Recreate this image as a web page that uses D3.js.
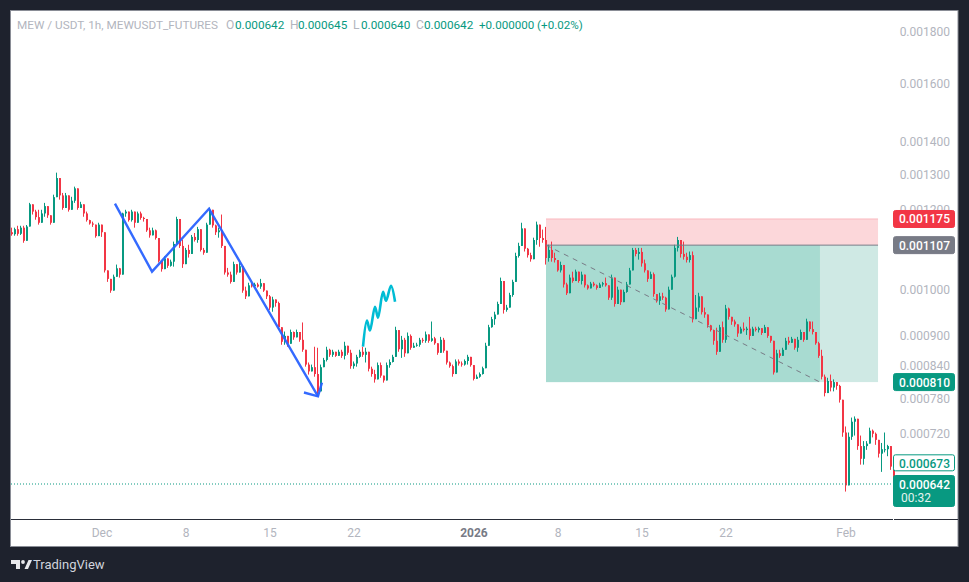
<!DOCTYPE html>
<html><head><meta charset="utf-8">
<script src="https://cdn.jsdelivr.net/npm/d3@7"></script>
<style>html,body{margin:0;padding:0;background:#1e222d}svg{display:block}text{font-family:"Roboto",sans-serif}</style>
</head><body><svg id="c" width="969" height="582"></svg>
<script>
// candles: 6-hour aggregates, prices in millionths of USDT
const highs=[1152,1152,1157,1157,1157,1159,1219,1214,1200,1200,1200,1219,1200,1181,1242,
1306,1277,1247,1247,1233,1236,1265,1222,1222,1206,1195,1173,1168,1152,1165,
1152,1108,1035,1018,1035,1059,1051,1192,1200,1187,1200,1187,1195,1195,1181,
1173,1152,1152,1147,1121,1066,1079,1071,1071,1116,1181,1165,1121,1100,1108,
1133,1138,1154,1121,1100,1165,1206,1187,1160,1152,1187,1100,1051,1042,1066,
1051,1064,1054,1007,1016,1016,1016,1016,1025,1012,995,988,984,977,973,
917,909,898,913,909,913,907,928,858,847,843,878,876,843,856,
878,874,872,866,872,872,888,878,872,849,862,872,878,876,866,
839,833,847,847,820,847,853,862,919,888,900,896,907,903,886,
886,896,896,909,898,930,898,882,898,896,866,849,843,853,853,
849,853,862,856,833,824,828,839,886,923,940,951,973,1028,988,
966,993,1023,1088,1113,1165,1126,1100,1088,1126,1168,1154,1147,1154,1108,
1116,1088,1064,1066,1042,1016,1035,1042,1047,1035,1042,1018,1012,1018,1018,
1012,1016,1018,1028,1005,1035,1000,1007,982,1000,1018,1051,1100,1100,1100,
1100,1071,1042,1042,1040,988,993,993,984,1007,1035,1108,1128,1116,1116,
1088,1091,1091,988,993,982,960,940,923,913,917,923,930,966,960,
938,934,923,919,928,919,940,919,919,919,913,923,913,898,886,
872,872,876,896,898,898,892,898,913,903,936,923,930,892,888,
872,824,818,824,815,809,805,766,732,722,747,749,717,717,708,
708,730,727,722,708,705,722,702,699,668];
const lows=[1131,1131,1131,1133,1113,1121,1192,1187,1173,1160,1178,1181,1178,1160,1208,
1247,1228,1200,1214,1195,1200,1219,1200,1206,1181,1168,1160,1154,1126,1133,
1128,1040,1018,993,1005,1035,1028,1071,1181,1168,1168,1152,1173,1173,1168,
1141,1126,1133,1121,1064,1042,1054,1051,1054,1054,1121,1100,1051,1076,1076,
1100,1116,1113,1091,1083,1096,1165,1152,1133,1126,1100,1035,1030,1014,1035,
1035,1042,993,979,1000,1005,1005,1005,1002,995,979,955,951,962,913,
882,882,878,888,892,898,888,868,839,824,833,820,787,796,843,
849,858,858,858,862,856,853,862,835,835,839,856,858,847,830,
820,809,828,818,809,820,837,847,872,868,856,858,878,872,876,
878,878,886,886,886,888,882,862,868,866,843,837,820,839,841,
839,841,843,839,813,818,818,824,843,896,917,923,951,982,947,
951,960,984,1040,1076,1108,1091,1076,1066,1088,1108,1103,1113,1059,1066,
1066,1064,1042,1040,1005,988,1012,1016,1028,1016,1012,1005,1000,1007,1007,
1000,1005,1007,1007,977,977,962,982,966,973,993,1028,1051,1079,1071,
1054,1040,1018,1028,984,971,966,977,951,962,1005,1028,1091,1076,1071,
1064,1064,928,951,951,945,938,917,909,882,862,909,886,886,934,
923,919,898,907,909,902,892,909,909,907,902,907,896,886,824,
833,856,866,878,882,886,872,868,896,888,903,909,903,882,856,
815,784,796,793,793,796,773,715,631,663,710,717,694,671,671,
694,705,714,702,682,660,690,684,663,648];
const closes=[1135,1148,1136,1152,1118,1155,1215,1195,1180,1165,1190,1210,1185,1165,1235,
1290,1240,1205,1240,1200,1225,1260,1205,1215,1190,1172,1163,1160,1130,1160,
1140,1045,1025,998,1030,1050,1035,1190,1195,1172,1195,1165,1190,1178,1175,
1145,1132,1145,1125,1068,1048,1074,1056,1066,1110,1175,1105,1060,1095,1085,
1128,1120,1148,1095,1088,1160,1200,1158,1140,1145,1105,1040,1035,1018,1060,
1040,1055,998,985,1010,1008,1012,1007,1015,998,985,960,978,970,918,
888,900,884,908,897,908,892,872,843,830,838,825,793,838,852,
872,862,868,860,868,860,880,866,840,845,858,868,862,868,835,
825,815,842,822,813,842,848,858,912,873,892,865,900,876,880,
882,892,890,903,890,895,885,866,892,870,847,840,825,849,845,
843,850,858,842,816,820,825,836,880,918,935,945,968,1020,955,
960,988,1018,1080,1105,1150,1098,1082,1072,1120,1160,1125,1120,1075,1095,
1075,1070,1045,1058,1012,992,1028,1020,1042,1020,1035,1010,1003,1014,1010,
1004,1012,1015,1010,982,1028,968,1000,972,995,1012,1045,1095,1085,1090,
1062,1045,1025,1036,990,975,985,982,956,1000,1030,1100,1120,1085,1078,
1070,1082,935,960,985,950,945,922,912,890,868,918,892,958,940,
930,924,905,915,912,915,900,915,912,916,906,918,900,890,828,
865,860,872,890,886,894,876,892,908,892,930,914,908,885,860,
820,790,812,800,810,803,778,722,640,715,740,745,700,680,700,
704,725,720,710,688,695,695,700,668,650];
const firstOpen=1140;
const firstCandle=Date.UTC(2025,10,23,12), candleStep=6*3600e3;

const priceTicks=[1800,1600,1400,1300,1200,1000,900,840,780,720];
const timeTicks=[[2025,11,1,"Dec"],[2025,11,8,"8"],[2025,11,15,"15"],[2025,11,22,"22"],[2026,0,1,"2026"],[2026,0,8,"8"],[2026,0,15,"15"],[2026,0,22,"22"],[2026,1,1,"Feb"]];

// drawings: days after 1 Dec, price in millionths
const zigDays=[1.08,4.17,8.92,18.0], zigPrices=[1217,1042,1203,784];
const headDays=[16.83,18.0,18.33], headPrices=[791,784,809];
const waveDays=[21.75,22.08,22.33,22.75,23,23.42,23.67,24.08,24.42];
const wavePrices=[878,932,911,962,938,995,975,1009,973];
const posStartDay=37, posNowDay=59.83, posEndDay=64.67;
const stopPrice=1175, entryPrice=1107, targetPrice=810, lastPrice=642, otherPrice=673;

const UP="#089981",DOWN="#f23645",AXIS="#b2b5be";
const svg=d3.select("#c");
const x=d3.scaleUtc().domain([Date.UTC(2025,11,1),Date.UTC(2026,1,1)]).range([102,846]);
const y=d3.scaleLog().domain([1800e-6,642e-6]).range([32,484]);
const px=d=>x(Date.UTC(2025,11,1)+d*864e5), py=p=>y(p*1e-6);

svg.append("rect").attr("width",969).attr("height",582).attr("fill","#1e222d");
svg.append("rect").attr("x",10.5).attr("y",10.5).attr("width",947.5).attr("height",536).attr("fill","#fff").attr("stroke","#8a8d96");

// position tool
const g=svg.append("g");
g.append("rect").attr("x",px(posStartDay)).attr("y",py(stopPrice)).attr("width",px(posEndDay)-px(posStartDay)).attr("height",py(entryPrice)-py(stopPrice)).attr("fill","#fcd7da");
g.append("line").attr("x1",px(posStartDay)).attr("x2",px(posEndDay)).attr("y1",py(stopPrice)).attr("y2",py(stopPrice)).attr("stroke","#fbb9bf");
g.append("rect").attr("x",px(posStartDay)).attr("y",py(entryPrice)).attr("width",px(posEndDay)-px(posStartDay)).attr("height",py(targetPrice)-py(entryPrice)).attr("fill","#cfe9e4");
g.append("rect").attr("x",px(posStartDay)).attr("y",py(entryPrice)).attr("width",px(posNowDay)-px(posStartDay)).attr("height",py(targetPrice)-py(entryPrice)).attr("fill","#a8dbd1");

// candles
const candles=closes.map((c,i)=>{const o=i?closes[i-1]:firstOpen;return{t:firstCandle+i*candleStep,o,c,h:Math.max(highs[i],o,c),l:Math.min(lows[i],o,c)}});
const cg=svg.append("g");
cg.selectAll("line").data(candles).join("line").attr("x1",d=>x(d.t)-.5).attr("x2",d=>x(d.t)-.5).attr("y1",d=>py(d.h)).attr("y2",d=>py(d.l)).attr("stroke",d=>d.c>=d.o?UP:DOWN).attr("stroke-width",1);
cg.selectAll("rect").data(candles).join("rect").attr("x",d=>x(d.t)-1).attr("width",2).attr("y",d=>py(Math.max(d.o,d.c))).attr("height",d=>Math.max(1,py(Math.min(d.o,d.c))-py(Math.max(d.o,d.c)))).attr("fill",d=>d.c>=d.o?UP:DOWN);

// position lines on top
svg.append("line").attr("x1",px(posStartDay)).attr("x2",px(posEndDay)).attr("y1",py(entryPrice)).attr("y2",py(entryPrice)).attr("stroke","#787b86").attr("stroke-width",1);
svg.append("line").attr("x1",px(posStartDay)).attr("x2",px(posNowDay)).attr("y1",py(entryPrice)).attr("y2",py(targetPrice)).attr("stroke","#787b86").attr("stroke-width",1).attr("stroke-dasharray","5 5");

// blue zigzag and arrow head
const ln=d3.line().x(d=>px(d[0])).y(d=>py(d[1]));
svg.append("path").attr("d",ln(d3.zip(zigDays,zigPrices))).attr("fill","none").attr("stroke","#2962ff").attr("stroke-opacity",.95).attr("stroke-width",2.4);
svg.append("path").attr("d",ln(d3.zip(headDays,headPrices))).attr("fill","none").attr("stroke","#2962ff").attr("stroke-opacity",.95).attr("stroke-width",2.4);
// cyan brush
svg.append("path").attr("d",d3.line().x(d=>px(d[0])).y(d=>py(d[1])).curve(d3.curveCatmullRom)(d3.zip(waveDays,wavePrices))).attr("fill","none").attr("stroke","#00bcd4").attr("stroke-width",2.6);

// last-price dotted line
svg.append("line").attr("x1",11).attr("x2",893).attr("y1",py(lastPrice)).attr("y2",py(lastPrice)).attr("stroke",UP).attr("stroke-dasharray","1 2");

// axes
const fmt=p=>(p*1e-6).toFixed(6);
svg.selectAll(".pt").data(priceTicks).join("text").attr("class","pt").attr("x",950).attr("text-anchor","end").attr("y",d=>py(d)+4).attr("font-size",12).attr("fill",AXIS).text(fmt);
svg.append("line").attr("x1",11).attr("x2",958).attr("y1",519.5).attr("y2",519.5).attr("stroke","#2a2e39");
svg.append("line").attr("x1",893.5).attr("x2",893.5).attr("y1",519).attr("y2",521).attr("stroke","#fff");
svg.selectAll(".tt").data(timeTicks).join("text").attr("class","tt").attr("x",d=>x(Date.UTC(d[0],d[1],d[2]))).attr("y",537).attr("text-anchor","middle").attr("font-size",12)
  .attr("fill",d=>d[3]==="2026"?"#787b86":AXIS).attr("font-weight",d=>d[3]==="2026"?700:400).text(d=>d[3]);

// price tags
function tag(p,fill,h,stroke,txt){const yc=py(p);
  svg.append("rect").attr("x",893.5).attr("y",yc-8.5).attr("width",61).attr("height",h).attr("rx",2).attr("fill",fill).attr("stroke",stroke||fill);
  svg.append("text").attr("x",950).attr("y",yc+4.5).attr("text-anchor","end").attr("font-size",12).attr("font-weight",500).attr("fill",txt||"#fff").text(fmt(p));}
tag(stopPrice,DOWN,17);tag(entryPrice,"#787b86",17);tag(targetPrice,UP,17);
tag(otherPrice,"#fff",16,UP,UP);tag(lastPrice,UP,31);
svg.append("text").attr("x",901).attr("y",py(lastPrice)+18).attr("font-size",12).attr("fill","#e4f3f0").text("00:32");

// legend
const legend=[[17,"MEW / USDT, 1h, MEWUSDT_FUTURES",AXIS,11.75],[226,"O",AXIS,12],[235,"0.000642",UP,11.75],[290,"H",AXIS,12],[298,"0.000645",UP,11.75],[353,"L",AXIS,12],[361,"0.000640",UP,11.75],[416,"C",AXIS,12],[424,"0.000642",UP,11.75],[479,"+0.000000 (+0.02%)",UP,11.6]];
svg.selectAll(".lg").data(legend).join("text").attr("class","lg").attr("x",d=>d[0]).attr("y",28.5).attr("font-size",d=>d[3]).attr("fill",d=>d[2]).text(d=>d[1]);

// brand
svg.append("path").attr("d","M11 560H20V569H16V564H11Z M28.5 560H32L28 569H24.5Z").attr("fill","#e8e9ec");
svg.append("circle").attr("cx",23).attr("cy",562).attr("r",1.9).attr("fill","#e8e9ec");
svg.append("text").attr("x",33).attr("y",569).attr("font-size",13).attr("fill","#d1d4dc").text("TradingView");
</script></body></html>
